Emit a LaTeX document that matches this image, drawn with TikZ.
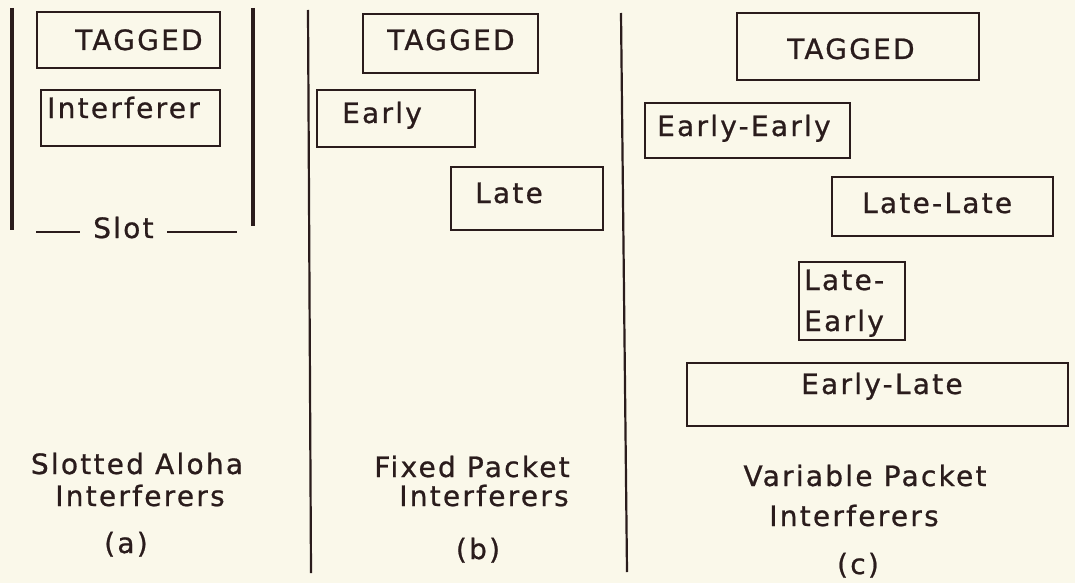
\documentclass[tikz,border=0pt]{standalone}
\usepackage{fontspec}
\setmainfont{DejaVu Sans}[LetterSpace=8,FakeBold=0.8]
\definecolor{paper}{HTML}{FAF8EA}
\definecolor{ink}{HTML}{2A1C1C}
\begin{document}
\begin{tikzpicture}[x=1pt,y=-1pt,
  box/.style={draw=ink,line width=2pt},
  wall/.style={draw=ink,line width=3.6pt},
  divider/.style={draw=ink,line width=2.2pt},
  txt/.style={anchor=base west,inner sep=0pt,text=ink,font=\fontsize{28}{32}\selectfont},
  caption/.style={anchor=base,inner sep=0pt,text=ink,font=\fontsize{28}{32}\selectfont}]
\fill[paper] (0,0) rectangle (1075,583);
\useasboundingbox (0,0) rectangle (1075,583);

% (a) slotted aloha
\draw[wall] (12,8) -- (12,230);
\draw[wall] (253,8) -- (253,226);
\draw[box] (37,12) rectangle (220,68);
\node[txt] (aTag) at (75,50) {TAGGED};
\draw[box] (41,90) rectangle (220,146);
\node[txt] (aInt) at (47,118) {Interferer};
\node[txt] (slot) at (93,238) {Slot};
\coordinate (sl1) at (36,232); \coordinate (sl2) at (80,232);
\coordinate (sr1) at (167,232); \coordinate (sr2) at (237,232);
\draw[ink,line width=2pt] (sl1) -- (sl2);
\draw[ink,line width=2pt] (sr1) -- (sr2);
\node[caption] (aCap1) at (137,474) {Slotted Aloha};
\node[caption] (aCap2) at (140,506) {Interferers};
\node[caption] (aCap3) at (126,553) {(a)};

% (b) fixed packet
\draw[divider] (308,10) -- (311,573);
\draw[box] (363,14) rectangle (538,73);
\node[txt] (bTag) at (387,50) {TAGGED};
\draw[box] (317,90) rectangle (475,147);
\node[txt] (bEarly) at (342,123) {Early};
\draw[box] (451,167) rectangle (603,230);
\node[txt] (bLate) at (475,203) {Late};
\node[caption] (bCap1) at (472,477) {Fixed Packet};
\node[caption] (bCap2) at (484,506) {Interferers};
\node[caption] (bCap3) at (478,559) {(b)};

% (c) variable packet
\draw[divider] (621,13) -- (627,572);
\draw[box] (737,13) rectangle (979,80);
\node[txt] (cTag) at (787,59) {TAGGED};
\draw[box] (645,103) rectangle (850,158);
\node[txt] (cEE) at (657,136) {Early-Early};
\draw[box] (832,177) rectangle (1053,236);
\node[txt] (cLL) at (862,213) {Late-Late};
\draw[box] (799,262) rectangle (905,340);
\node[txt] (cLE1) at (804,290) {Late-};
\node[txt] (cLE2) at (804,331) {Early};
\draw[box] (687,363) rectangle (1068,426);
\node[txt] (cEL) at (801,394) {Early-Late};
\node[caption] (cCap1) at (865,486) {Variable Packet};
\node[caption] (cCap2) at (854,526) {Interferers};
\node[caption] (cCap3) at (858,574) {(c)};
\end{tikzpicture}
\end{document}
